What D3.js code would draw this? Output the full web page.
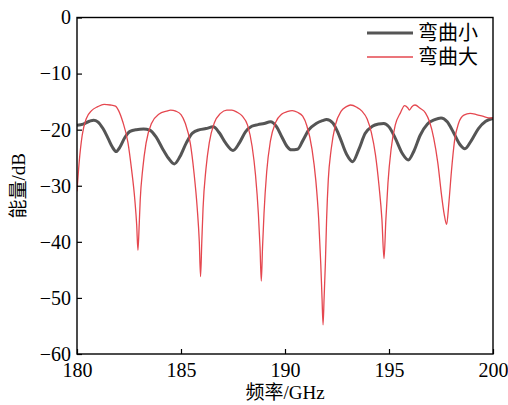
<!DOCTYPE html>
<html>
<head>
<meta charset="utf-8">
<script src="https://cdn.jsdelivr.net/npm/d3@7"></script>
<style>
  body { margin: 0; background: #fff; }
  text { font-family: "Liberation Serif", "Times New Roman", serif; }
  .cjk { font-family: "Liberation Serif", "Noto Sans CJK SC", serif; }
</style>
</head>
<body>
<div id="chart"></div>
<script>
///// spectrum data /////
var xTicks = [180, 185, 190, 195, 200];
var yTicks = [0, -10, -20, -30, -40, -50, -60];
var seriesNames = ["弯曲小", "弯曲大"];

// 弯曲小 (small bend) : [GHz, dB]
var smallBend = [
  [180.0, -19.2], [180.3, -19.0], [180.6, -18.5], [180.8, -18.3], [181.0, -18.6],
  [181.25, -19.8], [181.5, -21.6], [181.7, -23.1], [181.88, -23.9], [182.05, -23.2],
  [182.3, -21.4], [182.55, -20.3], [182.85, -20.0], [183.2, -19.9], [183.5, -20.1],
  [183.8, -21.3], [184.1, -23.3], [184.4, -25.1], [184.68, -26.1], [184.95, -24.8],
  [185.25, -22.4], [185.55, -20.6], [185.9, -20.0], [186.2, -19.8], [186.55, -19.5],
  [186.85, -20.6], [187.15, -22.4], [187.5, -23.7], [187.8, -22.4], [188.1, -20.4],
  [188.4, -19.4], [188.7, -19.1], [189.0, -18.9], [189.3, -18.6], [189.6, -19.5],
  [189.85, -21.3], [190.1, -23.0], [190.3, -23.6], [190.6, -23.5], [190.85, -22.0],
  [191.15, -20.0], [191.5, -18.9], [191.8, -18.4], [192.0, -18.2], [192.3, -18.8],
  [192.6, -21.0], [192.95, -24.3], [193.25, -25.7], [193.55, -23.5], [193.85, -20.7],
  [194.2, -19.4], [194.5, -19.0], [194.75, -18.9], [195.0, -19.5], [195.3, -21.5],
  [195.65, -24.3], [195.93, -25.4], [196.2, -23.8], [196.5, -21.0], [196.85, -19.0],
  [197.2, -18.2], [197.5, -17.9], [197.8, -18.6], [198.1, -20.5], [198.4, -22.6],
  [198.65, -23.4], [198.95, -22.0], [199.3, -19.8], [199.65, -18.5], [200.0, -18.0]
];

// 弯曲大 (large bend) : [GHz, dB]
var largeBend = [
  [180.0, -31], [180.1, -26], [180.25, -21], [180.45, -18], [180.7, -16.6],
  [181.0, -15.9], [181.3, -15.5], [181.6, -15.6], [181.85, -15.8], [182.0, -16.6],
  [182.2, -18.6], [182.45, -22.3], [182.62, -27], [182.78, -32.5], [182.87, -37],
  [182.93, -41.5], [182.99, -37], [183.04, -32.5], [183.16, -27], [183.32, -22.4],
  [183.58, -18.9], [183.95, -17.2], [184.3, -16.7], [184.5, -16.5], [184.75, -16.7],
  [185.0, -17.3], [185.2, -18.8], [185.45, -22.5], [185.62, -27.5], [185.78, -34],
  [185.88, -40], [185.94, -46.2], [186.0, -40], [186.06, -34], [186.2, -27],
  [186.36, -22.3], [186.6, -18.8], [186.9, -17.1], [187.2, -16.5], [187.45, -16.5],
  [187.7, -16.9], [187.95, -17.6], [188.2, -19.2], [188.42, -23], [188.58, -28],
  [188.72, -35], [188.8, -41], [188.86, -47], [188.92, -41], [188.99, -35],
  [189.12, -27.5], [189.3, -22], [189.55, -18.7], [189.85, -17.2], [190.1, -16.8],
  [190.35, -16.6], [190.6, -16.9], [190.85, -17.6], [191.05, -19.3], [191.3, -23.5],
  [191.48, -29], [191.62, -36], [191.72, -44], [191.78, -50], [191.83, -54.8],
  [191.88, -50], [191.94, -44], [192.0, -36], [192.08, -29], [192.22, -23.5],
  [192.42, -19.2], [192.7, -16.7], [192.95, -15.9], [193.15, -15.6], [193.45, -16.0],
  [193.7, -16.7], [193.95, -18.1], [194.15, -20.5], [194.35, -24.5], [194.52, -30],
  [194.66, -36], [194.76, -43], [194.85, -36], [194.95, -29.5], [195.1, -23.5],
  [195.3, -19.2], [195.55, -17], [195.75, -15.7], [195.9, -16.1], [195.98, -16.5],
  [196.1, -15.9], [196.25, -15.6], [196.5, -16.2], [196.75, -17.0], [196.95, -18.6],
  [197.15, -21.5], [197.35, -26], [197.52, -31.5], [197.65, -35], [197.77, -36.9],
  [197.88, -33], [198.0, -27.5], [198.15, -22], [198.35, -18.8], [198.6, -17.4],
  [198.9, -17.1], [199.2, -17.3], [199.5, -17.6], [199.8, -17.9], [200.0, -17.9]
];

var width = 508;
var height = 405;

var svg = d3.select("#chart").append("svg")
  .attr("width", width)
  .attr("height", height);

var margin = { top: 17.5, right: 15, bottom: 51, left: 77 };
var w = width - margin.left - margin.right;
var h = height - margin.top - margin.bottom;

var x = d3.scaleLinear().domain([180, 200]).range([0, w]);
var y = d3.scaleLinear().domain([-60, 0]).range([h, 0]);

var g = svg.append("g")
  .attr("transform", "translate(" + margin.left + "," + margin.top + ")");

g.append("defs").append("clipPath").attr("id", "clip")
  .append("rect").attr("width", w).attr("height", h);

// lines
var line = d3.line()
  .x(function (d) { return x(d[0]); })
  .y(function (d) { return y(d[1]); })
  .curve(d3.curveMonotoneX);

var plot = g.append("g").attr("clip-path", "url(#clip)");

plot.append("path")
  .datum(smallBend)
  .attr("d", line)
  .attr("fill", "none")
  .attr("stroke", "#555555")
  .attr("stroke-width", 3)
  .attr("stroke-linejoin", "round");

plot.append("path")
  .datum(largeBend)
  .attr("d", line)
  .attr("fill", "none")
  .attr("stroke", "#e5474f")
  .attr("stroke-width", 1.3)
  .attr("stroke-linejoin", "round");

// axes (ticks pointing inward)
var xAxis = g.append("g")
  .attr("transform", "translate(0," + h + ")")
  .call(d3.axisBottom(x).tickValues(xTicks).tickSize(-5).tickPadding(9).tickFormat(d3.format("d")));

var yAxis = g.append("g")
  .call(d3.axisLeft(y).tickValues(yTicks).tickSize(-5).tickPadding(6)
    .tickFormat(function (d) { return d < 0 ? "\u2212" + Math.abs(d) : d; }));

[xAxis, yAxis].forEach(function (a) {
  a.select(".domain").remove();
  a.selectAll("line").attr("stroke", "#000").attr("stroke-width", 1.2);
  a.selectAll("text")
    .style("font-family", "'Liberation Serif', serif")
    .style("font-size", "20px")
    .attr("fill", "#000");
});

// frame
g.append("rect")
  .attr("width", w)
  .attr("height", h)
  .attr("fill", "none")
  .attr("stroke", "#000")
  .attr("stroke-width", 1.4);

// axis titles
svg.append("text")
  .attr("class", "cjk")
  .attr("x", margin.left + w / 2)
  .attr("y", 399)
  .attr("text-anchor", "middle")
  .style("font-size", "19px")
  .text("频率/GHz");

svg.append("text")
  .attr("class", "cjk")
  .attr("transform", "translate(25," + (margin.top + h / 2) + ") rotate(-90)")
  .attr("text-anchor", "middle")
  .style("font-size", "19px")
  .text("能量/dB");

// legend
var legend = svg.append("g");
var legendStyles = [
  { color: "#555555", width: 3 },
  { color: "#e5474f", width: 1.3 }
];
seriesNames.forEach(function (name, i) {
  var ly = 33 + i * 24;
  legend.append("line")
    .attr("x1", 367).attr("x2", 413)
    .attr("y1", ly).attr("y2", ly)
    .attr("stroke", legendStyles[i].color)
    .attr("stroke-width", legendStyles[i].width);
  legend.append("text")
    .attr("class", "cjk")
    .attr("x", 418)
    .attr("y", ly + 7)
    .style("font-size", "20px")
    .text(name);
});
</script>
</body>
</html>
